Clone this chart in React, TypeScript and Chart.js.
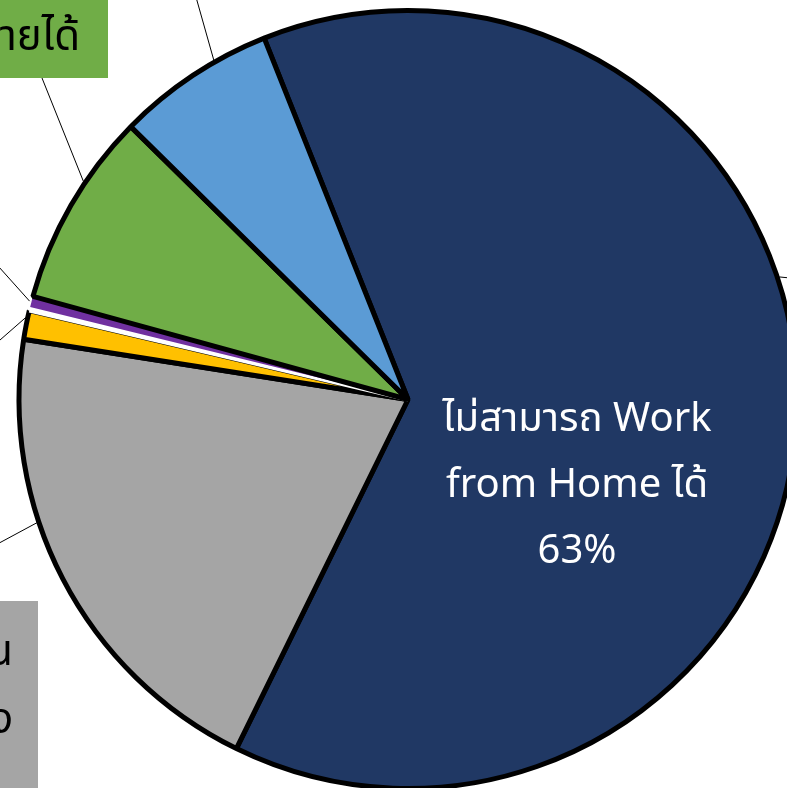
import React, { useEffect, useRef } from "react";
import { Chart, registerables } from "chart.js";

Chart.register(...registerables);

const categories = [
  "ไม่สามารถ Work from Home ได้",
  "Work from Home ได้บางส่วน",
  "อื่นๆ",
  "ไม่ระบุ",
  "ไม่ทราบ",
  "สามารถย้ายได้",
  "สามารถ Work from Home ได้",
];
const values = [63.3, 20.2, 1.2, 0.15, 0.45, 8.1, 6.6];
const colors = ["#203864", "#A5A5A5", "#FFC000", "#FFFFFF", "#7030A0", "#70AD47", "#5B9BD5"];
const borderColors = ["#000000", "#000000", "#000000", "#FFFFFF", "#000000", "#000000", "#000000"];
const borderWidths = [5, 5, 5, 4, 0, 5, 5];

const mainLabelLines = ["ไม่สามารถ Work", "from Home ได้", "63%"];
const greenBoxLines = ["สามารถย้ายได้"];
const grayBoxLines = ["Work from Home ได้บางส่วน", "หรือต้องเข้าที่ทำงานบ้าง"];

const FONT = "'Noto Sans Thai', 'Noto Sans', 'DejaVu Sans', sans-serif";

// callouts: slice index, fraction along slice angle, outer end point
const callouts = [
  { i: 6, f: 0.66, x: 194, y: -10 },
  { i: 5, f: 0.635, x: 42, y: 78 },
  { i: 4, f: 0.5, x: -10, y: 257 },
  { i: 2, f: 0.74, x: -8, y: 347 },
  { i: 1, f: 0.625, x: -10, y: 548 },
  { i: 0, f: 0.41, x: 800, y: 279 },
];

const overlayPlugin = {
  id: "overlay",
  afterDatasetsDraw(chart: any) {
    const ctx = chart.ctx;
    const meta = chart.getDatasetMeta(0);
    ctx.save();
    // callout lines
    ctx.strokeStyle = "#000";
    ctx.lineWidth = 1;
    callouts.forEach((c) => {
      const arc = meta.data[c.i];
      const p = arc.getProps(["x", "y", "startAngle", "endAngle", "outerRadius"], true);
      const a = p.startAngle + (p.endAngle - p.startAngle) * c.f;
      const r = p.outerRadius + 2;
      ctx.beginPath();
      ctx.moveTo(p.x + r * Math.cos(a), p.y + r * Math.sin(a));
      ctx.lineTo(c.x, c.y);
      ctx.stroke();
    });
    // green box
    ctx.fillStyle = colors[5];
    ctx.fillRect(-300, -10, 408, 88);
    ctx.fillStyle = "#000";
    ctx.font = `42px ${FONT}`;
    ctx.textAlign = "right";
    ctx.textBaseline = "alphabetic";
    greenBoxLines.forEach((t, k) => ctx.fillText(t, 80, 50 + k * 68));
    // gray box
    ctx.fillStyle = colors[1];
    ctx.fillRect(-500, 601, 538, 200);
    ctx.fillStyle = "#000";
    grayBoxLines.forEach((t, k) => ctx.fillText(t, 13, 665 + k * 68));
    // main label
    const arc0 = meta.data[0];
    const p0 = arc0.getProps(["x", "y", "startAngle", "endAngle", "outerRadius"], true);
    const a0 = p0.startAngle + (p0.endAngle - p0.startAngle) * 0.612;
    const r0 = p0.outerRadius * 0.491;
    const cx = p0.x + r0 * Math.cos(a0);
    const cy = p0.y + r0 * Math.sin(a0);
    ctx.fillStyle = "#FFFFFF";
    ctx.font = `40px ${FONT}`;
    ctx.textAlign = "center";
    ctx.textBaseline = "middle";
    mainLabelLines.forEach((t, k) => ctx.fillText(t, cx, cy + (k - 1) * 66));
    ctx.restore();
  },
};

export default function App() {
  const ref = useRef<HTMLCanvasElement>(null);
  useEffect(() => {
    if (!ref.current) return;
    const chart = new Chart(ref.current, {
      type: "pie",
      data: {
        labels: categories,
        datasets: [
          {
            data: values,
            backgroundColor: colors,
            borderColor: borderColors,
            borderWidth: borderWidths,
          },
        ],
      },
      options: {
        animation: false,
        responsive: false,
        devicePixelRatio: 1,
        rotation: -21.7,
        radius: 389,
        layout: { padding: 0 },
        plugins: { legend: { display: false }, tooltip: { enabled: false } },
      } as any,
      plugins: [overlayPlugin],
    });
    return () => chart.destroy();
  }, []);
  return (
    <div style={{ position: "fixed", left: 0, top: 0, width: 787, height: 788, overflow: "hidden", background: "#fff" }}>
      <canvas ref={ref} width={816} height={799} style={{ display: "block" }} />
    </div>
  );
}
